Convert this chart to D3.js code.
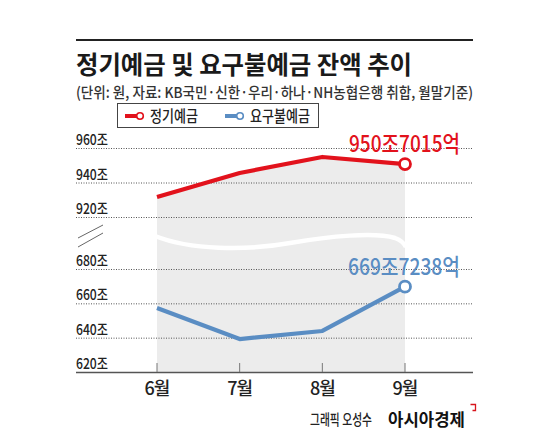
<!DOCTYPE html>
<html><head><meta charset="utf-8">
<script src="https://cdn.jsdelivr.net/npm/d3@7"></script>
<style>html,body{margin:0;padding:0;background:#fff;}svg{display:block;font-family:"Noto Sans CJK KR","Noto Sans",sans-serif;}</style>
</head><body>
<svg id="c" width="550" height="441"></svg>
<script>
const months = ["6월","7월","8월","9월"];
const termDeposits = [931.6, 945.5, 954.8, 950.7015];
const demandDeposits = [657.3, 639.2, 643.9, 669.7238];
const yTicks = [620, 640, 660, 680, 920, 940, 960];
const seriesNames = ["정기예금","요구불예금"];
const endLabels = ["950조7015억","669조7238억"];
const title = "정기예금 및 요구불예금 잔액 추이";
const subtitle = "(단위: 원, 자료: KB국민·신한·우리·하나·NH농협은행 취합, 월말기준)";
const credit1 = "그래픽 오성수";
const credit2 = "아시아경제";

const RED = "#e2121c", BLUE = "#5a8dc3";
const svg = d3.select("#c");

const x = d3.scalePoint().domain(months).range([157, 405]);
const y = d3.scaleLinear().domain([620, 680, 920, 960]).range([372, 269, 217, 148]);

// top rule
svg.append("line").attr("x1",76).attr("x2",473).attr("y1",40).attr("y2",40).attr("stroke","#222").attr("stroke-width",2);
svg.append("text").attr("x",76).attr("y",74).attr("font-size",24.5).attr("font-weight",700).attr("fill","#1a1a1a")
  .attr("textLength",336).attr("lengthAdjust","spacingAndGlyphs").text(title);
svg.append("text").attr("x",76).attr("y",98).attr("font-size",15).attr("font-weight",500).attr("fill","#333")
  .attr("textLength",397).attr("lengthAdjust","spacingAndGlyphs").text(subtitle);

// legend
svg.append("rect").attr("x",117.5).attr("y",103.5).attr("width",201).attr("height",24).attr("fill","#fff").attr("stroke","#444").attr("stroke-width",1);
const leg = [{c:RED,lx:125,tx:150,tw:48},{c:BLUE,lx:225,tx:250,tw:60}];
leg.forEach((l,i)=>{
  svg.append("line").attr("x1",l.lx).attr("x2",l.lx+12).attr("y1",116).attr("y2",116).attr("stroke",l.c).attr("stroke-width",4);
  svg.append("circle").attr("cx",l.lx+15).attr("cy",116).attr("r",3.3).attr("fill","#fff").attr("stroke",l.c).attr("stroke-width",1.6);
  svg.append("text").attr("x",l.tx).attr("y",122).attr("font-size",15.5).attr("font-weight",500).attr("fill","#222")
    .attr("textLength",l.tw).attr("lengthAdjust","spacingAndGlyphs").text(seriesNames[i]);
});

// gray area under red line
const area = d3.area().x((d,i)=>x(months[i])).y0(y(620)).y1(d=>y(d));
svg.append("path").datum(termDeposits).attr("d",area).attr("fill","#ececec");

// white break wave
svg.append("path").attr("d","M155,236 C190,250 245,251 290,243 C330,236 375,232 395,238 Q403,241 406,247")
  .attr("fill","none").attr("stroke","#fff").attr("stroke-width",4.5);

// gridlines and y labels
yTicks.forEach(t=>{
  if (t !== 620) {
    svg.append("line").attr("x1",76).attr("x2",472).attr("y1",y(t)+0.5).attr("y2",y(t)+0.5)
      .attr("stroke","#555").attr("stroke-width",1).attr("stroke-dasharray","1,1.5");
  }
  svg.append("text").attr("x",76).attr("y",y(t)-3).attr("font-size",15).attr("font-weight",500).attr("fill","#222")
    .attr("textLength",32).attr("lengthAdjust","spacingAndGlyphs").text(t+"조");
});

// break marks
svg.append("line").attr("x1",78).attr("y1",238).attr("x2",103).attr("y2",225).attr("stroke","#555").attr("stroke-width",0.9);
svg.append("line").attr("x1",78).attr("y1",247).attr("x2",103).attr("y2",233).attr("stroke","#555").attr("stroke-width",0.9);

// x axis
svg.append("line").attr("x1",76).attr("x2",473).attr("y1",372.5).attr("y2",372.5).attr("stroke","#555").attr("stroke-width",1.5);
months.forEach(m=>{
  svg.append("line").attr("x1",x(m)).attr("x2",x(m)).attr("y1",363).attr("y2",372).attr("stroke","#777").attr("stroke-width",1);
  svg.append("text").attr("x",x(m)).attr("y",395).attr("font-size",18).attr("font-weight",500).attr("text-anchor","middle").attr("fill","#222")
    .attr("letter-spacing",-1).text(m);
});

// lines
const line = d3.line().x((d,i)=>x(months[i])).y(d=>y(d));
[[termDeposits,RED],[demandDeposits,BLUE]].forEach(([data,c])=>{
  svg.append("path").datum(data).attr("d",line).attr("fill","none").attr("stroke",c).attr("stroke-width",4.2).attr("stroke-linejoin","round");
  const last = data.length-1;
  svg.append("circle").attr("cx",x(months[last])).attr("cy",y(data[last])).attr("r",5.5).attr("fill","#fff").attr("stroke",c).attr("stroke-width",2.8);
});

// end labels
svg.append("text").attr("x",349).attr("y",152).attr("font-size",23).attr("font-weight",500).attr("fill",RED)
  .attr("textLength",111).attr("lengthAdjust","spacingAndGlyphs").text(endLabels[0]);
svg.append("text").attr("x",348).attr("y",275).attr("font-size",23).attr("font-weight",500).attr("fill",BLUE)
  .attr("textLength",112).attr("lengthAdjust","spacingAndGlyphs").text(endLabels[1]);

// credits
svg.append("text").attr("x",310).attr("y",425).attr("font-size",14.5).attr("font-weight",500).attr("fill","#222")
  .attr("textLength",62).attr("lengthAdjust","spacingAndGlyphs").text(credit1);
svg.append("text").attr("x",388).attr("y",426).attr("font-size",17).attr("font-weight",700).attr("fill","#111")
  .attr("textLength",77).attr("lengthAdjust","spacingAndGlyphs").text(credit2);
svg.append("path").attr("d","M470.5,404.5 h5 v6 h-3").attr("fill","none").attr("stroke","#d8141c").attr("stroke-width",1.3);
</script>
</body></html>
